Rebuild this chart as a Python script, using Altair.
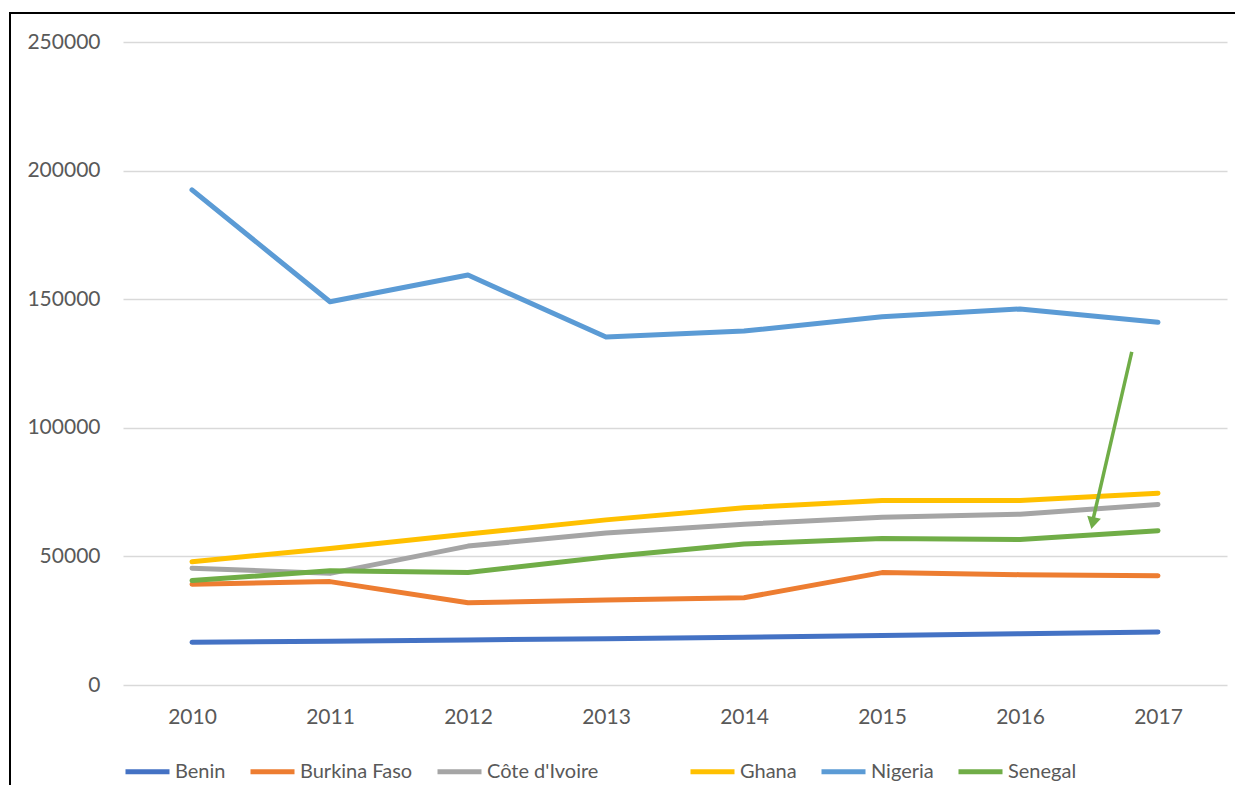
import altair as alt
import pandas as pd

years = [2010, 2011, 2012, 2013, 2014, 2015, 2016, 2017]
benin = [16600, 17000, 17500, 18000, 18600, 19200, 19900, 20600]
burkina = [39200, 40200, 32000, 33000, 33900, 43700, 42900, 42500]
cote = [45400, 43400, 54000, 59100, 62500, 65200, 66400, 70200]
ghana = [47900, 53100, 58700, 64200, 68900, 71700, 71700, 74600]
nigeria = [192500, 149000, 159400, 135300, 137600, 143200, 146200, 141000]
senegal = [40600, 44400, 43700, 49800, 54800, 57000, 56600, 60000]

group_a = ["Benin", "Burkina Faso", "Côte d'Ivoire"]
colors_a = ["#4472C4", "#ED7D31", "#A5A5A5"]
group_b = ["Ghana", "Nigeria", "Senegal"]
colors_b = ["#FFC000", "#5B9BD5", "#70AD47"]
series = {
    "Benin": benin, "Burkina Faso": burkina, "Côte d'Ivoire": cote,
    "Ghana": ghana, "Nigeria": nigeria, "Senegal": senegal,
}

y_ticks = [0, 50000, 100000, 150000, 200000, 250000]

# annotation arrow (data coordinates)
arrow_start = [2016.81, 129500]
arrow_end = [2016.53, 64500]
arrow_head = [2016.53, 63700]
arrow_angle = 192.8

rows = []
for name, vals in series.items():
    for yr, v in zip(years, vals):
        rows.append({"year": yr, "value": v, "country": name})
df = pd.DataFrame(rows)
df_a = df[df.country.isin(group_a)]
df_b = df[df.country.isin(group_b)]

x_enc = alt.X("year:Q", scale=alt.Scale(domain=[2009.5, 2017.5], nice=False, zero=False),
              axis=alt.Axis(values=years, format="d", title=None, grid=False,
                            labelPadding=21, labelFlush=False))
y_enc = alt.Y("value:Q", scale=alt.Scale(domain=[0, 250000], nice=False),
              axis=alt.Axis(values=y_ticks, format="d", title=None, grid=True,
                            gridColor="#D9D9D9", gridWidth=1.5, labelPadding=23))

frame = alt.Chart(pd.DataFrame({"a": [0]})).mark_rect(
    fill="white", fillOpacity=0, stroke="black", strokeWidth=2
).encode(x=alt.value(-113), x2=alt.value(3000), y=alt.value(-29), y2=alt.value(3000))

line_props = dict(strokeWidth=5, strokeCap="round", strokeJoin="round")

lines_a = alt.Chart(df_a).mark_line(**line_props).encode(
    x=x_enc, y=y_enc,
    color=alt.Color("country:N", title=None,
                    scale=alt.Scale(domain=group_a, range=colors_a),
                    legend=alt.Legend(orient="none", legendX=0, legendY=705,
                                      direction="horizontal")),
    order=alt.Order("year:Q"),
)
lines_b = alt.Chart(df_b).mark_line(**line_props).encode(
    x=x_enc, y=y_enc,
    color=alt.Color("country:N", title=None,
                    scale=alt.Scale(domain=group_b, range=colors_b),
                    legend=alt.Legend(orient="none", legendX=565, legendY=705,
                                      direction="horizontal")),
    order=alt.Order("year:Q"),
)

arrow_df = pd.DataFrame({
    "x": [arrow_start[0]], "y": [arrow_start[1]],
    "x2": [arrow_end[0]], "y2": [arrow_end[1]],
    "hx": [arrow_head[0]], "hy": [arrow_head[1]],
})
arrow_line = alt.Chart(arrow_df).mark_rule(color="#70AD47", strokeWidth=3.5).encode(
    x="x:Q", y="y:Q", x2="x2:Q", y2="y2:Q")
arrow_tip = alt.Chart(arrow_df).mark_point(
    shape="triangle", filled=True, color="#70AD47", opacity=1, size=196, angle=arrow_angle
).encode(x="hx:Q", y="hy:Q")

chart = alt.layer(frame, lines_a, lines_b, arrow_line, arrow_tip).resolve_scale(
    color="independent"
).properties(
    width=1104, height=643,
    autosize=alt.AutoSizeParams(type="none"),
    padding={"left": 115, "top": 34, "right": 8, "bottom": 100},
    background="white",
).configure_view(strokeWidth=0).configure_axis(
    labelFont="Lato", labelFontSize=21, labelColor="#595959",
    domain=False, ticks=False, tickSize=0,
).configure_legend(
    labelFont="Lato", labelFontSize=20, labelColor="#595959",
    symbolType="stroke", symbolStrokeWidth=5, symbolSize=1936,
    columnPadding=14, labelOffset=3, padding=0,
)

chart.save("out.html", embed_options={"renderer": "svg", "actions": False})
